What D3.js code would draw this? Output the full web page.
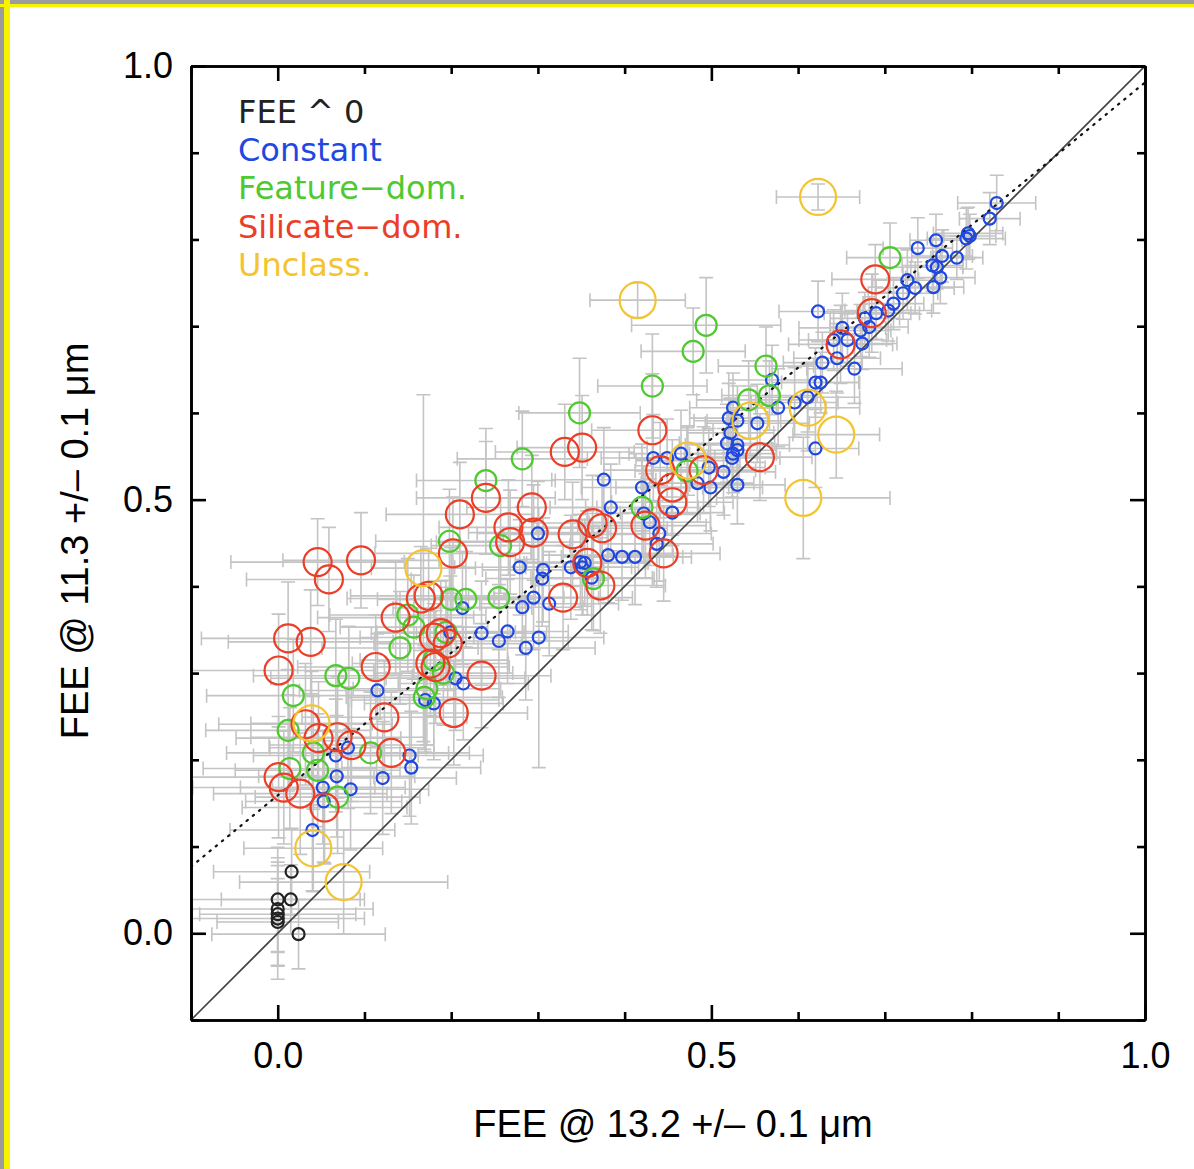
<!DOCTYPE html>
<html>
<head>
<meta charset="utf-8">
<script src="https://cdn.jsdelivr.net/npm/d3@7"></script>
<style>
  body { margin: 0; background: #fff; }
  svg { display: block; }
  .tick text { font-family: "Liberation Sans", Arial, sans-serif; font-size: 36px; fill: #000; }
</style>
</head>
<body>
<div id="chart"></div>
<script>
// each point : [FEE 13.2, FEE 11.3, err x, err y]
var fee0 = [
  [0.016, 0.071, 0.09, 0.05], [0.000, 0.039, 0.10, 0.06], [0.015, 0.039, 0.08, 0.04],
  [0.000, 0.028, 0.11, 0.05], [0.000, 0.022, 0.09, 0.06], [0.000, 0.017, 0.10, 0.07],
  [0.000, 0.013, 0.07, 0.05], [0.024, -0.001, 0.10, 0.04]
];

var constant = [
  [0.829, 0.842, 0.045, 0.032], [0.821, 0.824, 0.035, 0.030], [0.796, 0.807, 0.040, 0.030],
  [0.798, 0.804, 0.030, 0.025], [0.794, 0.801, 0.045, 0.035], [0.759, 0.799, 0.030, 0.030],
  [0.738, 0.790, 0.040, 0.035], [0.766, 0.781, 0.035, 0.030], [0.783, 0.779, 0.030, 0.025],
  [0.755, 0.770, 0.035, 0.030], [0.760, 0.768, 0.030, 0.025], [0.764, 0.756, 0.040, 0.030],
  [0.756, 0.745, 0.035, 0.030], [0.726, 0.753, 0.040, 0.035], [0.735, 0.744, 0.045, 0.030],
  [0.721, 0.738, 0.040, 0.030], [0.710, 0.726, 0.035, 0.030], [0.704, 0.718, 0.050, 0.035],
  [0.690, 0.715, 0.040, 0.030], [0.682, 0.699, 0.045, 0.035], [0.677, 0.709, 0.040, 0.030],
  [0.672, 0.695, 0.035, 0.030], [0.651, 0.698, 0.050, 0.040], [0.623, 0.717, 0.045, 0.035],
  [0.641, 0.684, 0.040, 0.035], [0.657, 0.684, 0.045, 0.030], [0.674, 0.680, 0.040, 0.030],
  [0.645, 0.663, 0.050, 0.040], [0.628, 0.658, 0.045, 0.035], [0.665, 0.651, 0.055, 0.040],
  [0.620, 0.635, 0.050, 0.040], [0.626, 0.635, 0.045, 0.035], [0.570, 0.638, 0.050, 0.040],
  [0.611, 0.618, 0.060, 0.040], [0.596, 0.612, 0.050, 0.040], [0.577, 0.606, 0.055, 0.045],
  [0.525, 0.606, 0.050, 0.040], [0.520, 0.594, 0.045, 0.040], [0.530, 0.591, 0.050, 0.040],
  [0.553, 0.588, 0.060, 0.045], [0.522, 0.577, 0.050, 0.040], [0.518, 0.565, 0.055, 0.045],
  [0.530, 0.563, 0.060, 0.040], [0.525, 0.553, 0.050, 0.045], [0.530, 0.557, 0.045, 0.040],
  [0.524, 0.548, 0.055, 0.045], [0.620, 0.559, 0.050, 0.045], [0.433, 0.548, 0.060, 0.050],
  [0.449, 0.548, 0.055, 0.045], [0.465, 0.553, 0.060, 0.050], [0.497, 0.537, 0.065, 0.045],
  [0.514, 0.532, 0.060, 0.050], [0.530, 0.517, 0.055, 0.045], [0.499, 0.514, 0.060, 0.050],
  [0.484, 0.519, 0.065, 0.045], [0.420, 0.514, 0.070, 0.050], [0.376, 0.523, 0.060, 0.060],
  [0.384, 0.491, 0.070, 0.050], [0.455, 0.485, 0.060, 0.050], [0.422, 0.484, 0.065, 0.055],
  [0.429, 0.474, 0.070, 0.050], [0.440, 0.461, 0.060, 0.055], [0.437, 0.449, 0.065, 0.050],
  [0.300, 0.461, 0.070, 0.060], [0.279, 0.422, 0.075, 0.055], [0.306, 0.419, 0.070, 0.060],
  [0.305, 0.409, 0.065, 0.055], [0.338, 0.422, 0.070, 0.060], [0.349, 0.428, 0.075, 0.055],
  [0.354, 0.427, 0.070, 0.050], [0.351, 0.422, 0.065, 0.055], [0.362, 0.410, 0.070, 0.060],
  [0.381, 0.436, 0.075, 0.055], [0.397, 0.434, 0.070, 0.050], [0.412, 0.434, 0.065, 0.055],
  [0.295, 0.387, 0.075, 0.060], [0.282, 0.376, 0.070, 0.055], [0.313, 0.380, 0.080, 0.060],
  [0.213, 0.375, 0.080, 0.065], [0.235, 0.346, 0.075, 0.060], [0.255, 0.337, 0.080, 0.065],
  [0.265, 0.348, 0.070, 0.060], [0.301, 0.341, 0.075, 0.150], [0.286, 0.329, 0.080, 0.060],
  [0.199, 0.347, 0.085, 0.065], [0.205, 0.294, 0.080, 0.060], [0.214, 0.288, 0.075, 0.065],
  [0.115, 0.280, 0.090, 0.065], [0.170, 0.269, 0.085, 0.060], [0.180, 0.265, 0.080, 0.065],
  [0.081, 0.214, 0.090, 0.070], [0.067, 0.205, 0.095, 0.065], [0.152, 0.205, 0.085, 0.070],
  [0.154, 0.191, 0.080, 0.065], [0.068, 0.181, 0.090, 0.070], [0.121, 0.179, 0.085, 0.065],
  [0.084, 0.166, 0.090, 0.070], [0.052, 0.168, 0.095, 0.065], [0.053, 0.152, 0.090, 0.070],
  [0.040, 0.119, 0.095, 0.070]
];

var featureDom = [
  [0.706, 0.779, 0.050, 0.040], [0.494, 0.701, 0.086, 0.055], [0.479, 0.671, 0.060, 0.050],
  [0.432, 0.631, 0.063, 0.060], [0.563, 0.654, 0.055, 0.045], [0.543, 0.615, 0.060, 0.045],
  [0.567, 0.620, 0.055, 0.040], [0.348, 0.600, 0.070, 0.063], [0.282, 0.547, 0.075, 0.055],
  [0.240, 0.522, 0.080, 0.060], [0.198, 0.452, 0.085, 0.060], [0.257, 0.447, 0.080, 0.055],
  [0.200, 0.385, 0.085, 0.060], [0.217, 0.385, 0.080, 0.055], [0.255, 0.387, 0.075, 0.060],
  [0.150, 0.367, 0.090, 0.065], [0.157, 0.353, 0.085, 0.060], [0.141, 0.329, 0.090, 0.065],
  [0.194, 0.347, 0.080, 0.060], [0.180, 0.315, 0.085, 0.065], [0.191, 0.300, 0.080, 0.060],
  [0.172, 0.282, 0.085, 0.065], [0.169, 0.272, 0.090, 0.060], [0.067, 0.297, 0.095, 0.065],
  [0.082, 0.294, 0.090, 0.060], [0.018, 0.274, 0.100, 0.065], [0.012, 0.234, 0.095, 0.070],
  [0.041, 0.208, 0.100, 0.065], [0.107, 0.208, 0.090, 0.070], [0.046, 0.188, 0.095, 0.065],
  [0.014, 0.190, 0.100, 0.070], [0.069, 0.157, 0.095, 0.065], [0.420, 0.491, 0.065, 0.055],
  [0.364, 0.409, 0.070, 0.060], [0.472, 0.533, 0.060, 0.050]
];

var silicateDom = [
  [0.689, 0.754, 0.050, 0.040], [0.685, 0.715, 0.055, 0.045], [0.649, 0.679, 0.060, 0.045],
  [0.432, 0.580, 0.070, 0.065], [0.351, 0.560, 0.075, 0.060], [0.331, 0.555, 0.080, 0.055],
  [0.556, 0.549, 0.060, 0.050], [0.210, 0.483, 0.085, 0.060], [0.240, 0.502, 0.080, 0.065],
  [0.293, 0.491, 0.075, 0.060], [0.266, 0.468, 0.080, 0.055], [0.268, 0.451, 0.085, 0.060],
  [0.295, 0.462, 0.075, 0.055], [0.340, 0.460, 0.080, 0.060], [0.363, 0.473, 0.070, 0.055],
  [0.374, 0.467, 0.075, 0.060], [0.202, 0.438, 0.090, 0.065], [0.329, 0.387, 0.080, 0.060],
  [0.372, 0.401, 0.075, 0.055], [0.357, 0.427, 0.070, 0.060], [0.445, 0.438, 0.065, 0.055],
  [0.424, 0.470, 0.070, 0.060], [0.441, 0.534, 0.065, 0.055], [0.491, 0.534, 0.060, 0.050],
  [0.455, 0.514, 0.065, 0.055], [0.455, 0.497, 0.070, 0.050], [0.046, 0.428, 0.100, 0.050],
  [0.059, 0.408, 0.095, 0.060], [0.096, 0.430, 0.090, 0.055], [0.136, 0.364, 0.090, 0.065],
  [0.165, 0.386, 0.085, 0.060], [0.174, 0.389, 0.090, 0.055], [0.012, 0.340, 0.100, 0.065],
  [0.038, 0.336, 0.095, 0.060], [0.001, 0.303, 0.110, 0.065], [0.113, 0.307, 0.090, 0.060],
  [0.180, 0.341, 0.085, 0.065], [0.188, 0.346, 0.080, 0.060], [0.196, 0.334, 0.085, 0.065],
  [0.176, 0.311, 0.090, 0.060], [0.182, 0.307, 0.085, 0.065], [0.235, 0.297, 0.080, 0.060],
  [0.123, 0.249, 0.095, 0.065], [0.203, 0.254, 0.085, 0.060], [0.032, 0.241, 0.100, 0.070],
  [0.047, 0.225, 0.095, 0.065], [0.069, 0.226, 0.100, 0.070], [0.085, 0.217, 0.095, 0.065],
  [0.131, 0.208, 0.090, 0.070], [0.001, 0.180, 0.110, 0.070], [0.007, 0.168, 0.105, 0.065],
  [0.026, 0.161, 0.100, 0.070], [0.054, 0.145, 0.095, 0.065]
];

var unclass = [
  [0.623, 0.849, 0.048, 0.015], [0.415, 0.730, 0.055, 0.020], [0.168, 0.421, 0.060, 0.200],
  [0.039, 0.242, 0.070, 0.060], [0.041, 0.098, 0.080, 0.050], [0.076, 0.059, 0.120, 0.060],
  [0.473, 0.545, 0.060, 0.040], [0.545, 0.591, 0.050, 0.040], [0.611, 0.606, 0.060, 0.050],
  [0.644, 0.575, 0.050, 0.050], [0.606, 0.502, 0.100, 0.070]
];

var labels = ["FEE ^ 0", "Constant", "Feature\u2212dom.", "Silicate\u2212dom.", "Unclass."];
var majorTicks = [0.0, 0.5, 1.0];
var minorTicks = [-0.1, 0.1, 0.2, 0.3, 0.4, 0.6, 0.7, 0.8, 0.9];
// dotted fit line : y = a + b x
var fit = {a: 0.159, b: 0.822};

var groups = [
  {name: labels[0], pts: fee0, color: "#222222", r: 6},
  {name: labels[1], pts: constant, color: "#1f48e0", r: 6},
  {name: labels[2], pts: featureDom, color: "#4ec92f", r: 10.5},
  {name: labels[3], pts: silicateDom, color: "#ec3d27", r: 14},
  {name: labels[4], pts: unclass, color: "#f4c430", r: 18}
];

var W = 1194, H = 1169;
var plot = {left: 191, right: 1145, top: 66, bottom: 1020};

var svg = d3.select("#chart").append("svg")
  .attr("width", W).attr("height", H);

// frame of the screenshot
svg.append("rect").attr("width", W).attr("height", H).attr("fill", "#fff");
svg.append("rect").attr("width", W).attr("height", 4).attr("fill", "#9c9c9c");
svg.append("rect").attr("width", 4).attr("height", H).attr("fill", "#9c9c9c");
svg.append("rect").attr("y", 4).attr("width", W).attr("height", 3).attr("fill", "#f6f200");
svg.append("rect").attr("x", 4).attr("width", 6).attr("height", H).attr("fill", "#f6f200");

var x = d3.scaleLinear().domain([-0.1, 1.0]).range([plot.left, plot.right]);
var y = d3.scaleLinear().domain([-0.1, 1.0]).range([plot.bottom, plot.top]);

svg.append("clipPath").attr("id", "clip").append("rect")
  .attr("x", plot.left).attr("y", plot.top)
  .attr("width", plot.right - plot.left).attr("height", plot.bottom - plot.top);

var g = svg.append("g").attr("clip-path", "url(#clip)");

// error bars first, all in light grey
var cap = 7;
var eb = g.append("g").attr("stroke", "#c4c4c4").attr("stroke-width", 1.6).attr("fill", "none");
groups.forEach(function(grp){
  grp.pts.forEach(function(d){
    var cx = x(d[0]), cy = y(d[1]);
    var x0 = x(d[0] - d[2]), x1 = x(d[0] + d[2]);
    var y0 = y(d[1] - d[3]), y1 = y(d[1] + d[3]);
    eb.append("path").attr("d",
      "M" + x0 + "," + cy + "H" + x1 +
      "M" + x0 + "," + (cy - cap) + "V" + (cy + cap) +
      "M" + x1 + "," + (cy - cap) + "V" + (cy + cap) +
      "M" + cx + "," + y0 + "V" + y1 +
      "M" + (cx - cap) + "," + y0 + "H" + (cx + cap) +
      "M" + (cx - cap) + "," + y1 + "H" + (cx + cap));
  });
});

// one-to-one line and dotted fit
g.append("line")
  .attr("x1", x(-0.1)).attr("y1", y(-0.1)).attr("x2", x(1.0)).attr("y2", y(1.0))
  .attr("stroke", "#444").attr("stroke-width", 1.6);
g.append("line")
  .attr("x1", x(-0.1)).attr("y1", y(fit.a - 0.1 * fit.b))
  .attr("x2", x(1.0)).attr("y2", y(fit.a + fit.b))
  .attr("stroke", "#111").attr("stroke-width", 2.2)
  .attr("stroke-dasharray", "1.5,6.5").attr("stroke-linecap", "round");

// circles
groups.forEach(function(grp){
  g.append("g").selectAll("circle").data(grp.pts).enter().append("circle")
    .attr("cx", function(d){ return x(d[0]); })
    .attr("cy", function(d){ return y(d[1]); })
    .attr("r", grp.r)
    .attr("fill", "none")
    .attr("stroke", grp.color)
    .attr("stroke-width", 2.2);
});

// axes : ticks inside on all four sides
function styleAxis(sel){
  sel.selectAll("path.domain").attr("stroke", "#000").attr("stroke-width", 2.6);
  sel.selectAll(".tick line").attr("stroke", "#000").attr("stroke-width", 2.6);
}
var fmt = d3.format(".1f");

svg.append("g").attr("transform", "translate(0," + plot.bottom + ")")
  .call(d3.axisBottom(x).tickValues(minorTicks).tickSize(-8).tickSizeOuter(0).tickFormat(""))
  .call(styleAxis);
svg.append("g").attr("transform", "translate(0," + plot.bottom + ")")
  .call(d3.axisBottom(x).tickValues(majorTicks).tickSize(-15).tickSizeOuter(0).tickPadding(22).tickFormat(fmt))
  .call(styleAxis);
svg.append("g").attr("transform", "translate(0," + plot.top + ")")
  .call(d3.axisTop(x).tickValues(minorTicks).tickSize(-8).tickSizeOuter(0).tickFormat(""))
  .call(styleAxis);
svg.append("g").attr("transform", "translate(0," + plot.top + ")")
  .call(d3.axisTop(x).tickValues(majorTicks).tickSize(-15).tickSizeOuter(0).tickFormat(""))
  .call(styleAxis);
svg.append("g").attr("transform", "translate(" + plot.left + ",0)")
  .call(d3.axisLeft(y).tickValues(minorTicks).tickSize(-8).tickSizeOuter(0).tickFormat(""))
  .call(styleAxis);
svg.append("g").attr("transform", "translate(" + plot.left + ",0)")
  .call(d3.axisLeft(y).tickValues(majorTicks).tickSize(-15).tickSizeOuter(0).tickPadding(18).tickFormat(fmt))
  .call(styleAxis);
svg.append("g").attr("transform", "translate(" + plot.right + ",0)")
  .call(d3.axisRight(y).tickValues(minorTicks).tickSize(-8).tickSizeOuter(0).tickFormat(""))
  .call(styleAxis);
svg.append("g").attr("transform", "translate(" + plot.right + ",0)")
  .call(d3.axisRight(y).tickValues(majorTicks).tickSize(-15).tickSizeOuter(0).tickFormat(""))
  .call(styleAxis);

// axis titles
svg.append("text")
  .attr("x", 673).attr("y", 1137)
  .attr("text-anchor", "middle")
  .style("font-family", "'Liberation Sans', Arial, sans-serif").style("font-size", "38px")
  .text("FEE @ 13.2 +/\u2013 0.1 \u03bcm");
svg.append("text")
  .attr("transform", "translate(88,541) rotate(-90)")
  .attr("text-anchor", "middle")
  .style("font-family", "'Liberation Sans', Arial, sans-serif").style("font-size", "38px")
  .text("FEE @ 11.3 +/\u2013 0.1 \u03bcm");

// legend, coloured text only
svg.append("g").selectAll("text").data(groups).enter().append("text")
  .attr("x", 238)
  .attr("y", function(d, i){ return 123 + i * 38.2; })
  .attr("fill", function(d){ return d.color; })
  .style("font-family", "'DejaVu Sans', sans-serif")
  .style("font-size", "32px").style("font-weight", 400)
  .text(function(d){ return d.name; });
</script>
</body>
</html>
